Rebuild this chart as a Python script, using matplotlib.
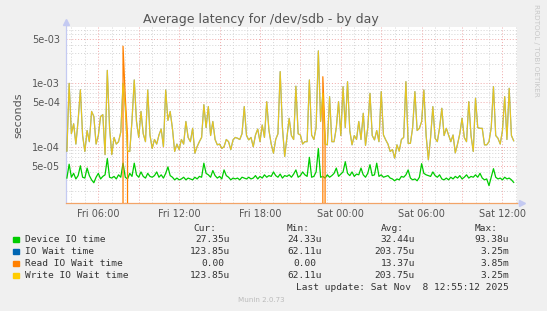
import numpy as np
import matplotlib.pyplot as plt
plt.switch_backend('agg')

W, H = 547, 311

title = "Average latency for /dev/sdb - by day"

# samples every 10 minutes, starting Fri 03:40 (hours counted from Fri 00:00)
start_hour = 3 + 40 / 60
step_min = 10

# Write IO Wait time (= IO Wait time), microseconds
write_us = [85, 1000, 160, 230, 110, 260, 790, 150, 84, 180,
            120, 360, 300, 110, 150, 300, 320, 75, 1600, 200,
            75, 140, 110, 120, 170, 1000, 420, 85, 84, 260,
            1130, 250, 140, 360, 160, 120, 785, 153, 94, 130,
            110, 153, 190, 100, 785, 260, 360, 195, 84, 110,
            90, 130, 110, 250, 140, 120, 195, 79, 100, 120,
            140, 460, 200, 430, 150, 250, 130, 107, 110, 94,
            100, 130, 120, 90, 128, 140, 136, 130, 160, 430,
            150, 128, 140, 100, 153, 190, 120, 220, 140, 514,
            180, 110, 79, 130, 160, 1530, 200, 70, 140, 280,
            150, 130, 900, 160, 153, 110, 120, 120, 1130, 153,
            130, 200, 3250, 250, 700, 110, 107, 616, 120, 120,
            200, 514, 150, 886, 200, 1062, 180, 107, 150, 130,
            250, 130, 337, 105, 200, 695, 150, 128, 180, 120,
            740, 153, 128, 110, 84, 90, 66, 107, 85, 130,
            140, 1062, 113, 113, 200, 740, 180, 195, 250, 785,
            150, 62.11, 140, 429, 136, 120, 200, 404, 150, 195,
            153, 120, 153, 80, 110, 160, 281, 140, 120, 514,
            150, 84, 580, 200, 195, 195, 107, 107, 120, 200,
            886, 150, 136, 110, 180, 616, 130, 834, 150, 123.85]

# Device IO time, microseconds
device_us = [32, 53, 33, 38, 31, 35, 50, 33, 32, 46,
             35, 30, 27, 33, 38, 31, 34, 36, 65, 33,
             32, 34, 31, 36, 33, 55, 33, 31, 38, 34,
             55, 36, 33, 40, 34, 32, 38, 34, 33, 35,
             40, 33, 36, 32, 38, 48, 35, 33, 30, 32,
             30, 31, 33, 30, 32, 31, 30, 33, 31, 34,
             33, 55, 38, 36, 33, 42, 35, 32, 34, 31,
             43, 35, 33, 30, 32, 31, 32, 30, 33, 32,
             31, 33, 31, 32, 35, 31, 34, 32, 36, 33,
             35, 34, 40, 35, 33, 37, 32, 35, 34, 36,
             33, 37, 43, 33, 35, 40, 36, 34, 68, 33,
             34, 40, 93.38, 33, 34, 32, 36, 33, 35, 38,
             46, 34, 37, 40, 58, 38, 35, 40, 34, 37,
             36, 46, 36, 33, 38, 52, 35, 36, 55, 34,
             36, 33, 34, 35, 32, 31, 29, 31, 30, 34,
             33, 36, 43, 32, 30, 31, 29, 33, 54, 38,
             36, 35, 34, 40, 35, 33, 36, 31, 30, 32,
             30, 33, 31, 34, 32, 35, 31, 33, 36, 32,
             34, 33, 36, 33, 38, 32, 30, 31, 24.33, 33,
             45, 33, 31, 32, 30, 33, 31, 32, 30, 27.35]

# Read IO Wait time is zero except for a few samples
read_idx = [25, 26, 27, 114, 115]
read_val = [3850, 600, 150, 1270, 150]

series_names = ['Device IO time', 'IO Wait time', 'Read IO Wait time', 'Write IO Wait time']
series_colors = ['#00CC00', '#0066B3', '#FF8000', '#FFCC00']
cur_vals = ['27.35u', '123.85u', '0.00', '123.85u']
min_vals = ['24.33u', '62.11u', '0.00', '62.11u']
avg_vals = ['32.44u', '203.75u', '13.37u', '203.75u']
max_vals = ['93.38u', '3.25m', '3.85m', '3.25m']
last_update = 'Last update: Sat Nov  8 12:55:12 2025'

xtick_hours = [6, 12, 18, 24, 30, 36]
xtick_labels = ['Fri 06:00', 'Fri 12:00', 'Fri 18:00', 'Sat 00:00', 'Sat 06:00', 'Sat 12:00']
ytick_vals = [5e-5, 1e-4, 5e-4, 1e-3, 5e-3]
ytick_labels = ['5e-05', '1e-04', '5e-04', '1e-03', '5e-03']

n = len(write_us)
hours = start_hour + np.arange(n) * step_min / 60.0
write = np.array(write_us) * 1e-6
device = np.array(device_us) * 1e-6
read = np.zeros(n)
read[read_idx] = np.array(read_val) * 1e-6


def fx(px):
    return px / W


def fy(py):
    return 1 - py / H


fig = plt.figure(figsize=(W / 100, H / 100), dpi=100, facecolor='#F0F0F0')
ax = fig.add_axes([fx(66), fy(203), fx(517) - fx(66), fy(27) - fy(203)])
ax.set_facecolor('white')
ax.set_yscale('log', nonpositive='clip')
ax.set_xlim(3.6, 37.08)
ax.set_ylim(1.294e-5, 7.73e-3)

# grid
for h in range(4, 38):
    if h % 3 == 0:
        ax.axvline(h, color='#F0A8A8', lw=0.7, ls=(0, (1, 2)), zorder=1)
    else:
        ax.axvline(h, color='#D4D4D4', lw=0.7, ls=(0, (1, 2)), zorder=0.5)
for dec in [1e-5, 1e-4, 1e-3]:
    for m in range(1, 10):
        v = m * dec
        if v < 1.294e-5 or v > 7.73e-3:
            continue
        if m in (1, 5):
            ax.axhline(v, color='#F0A8A8', lw=0.7, ls=(0, (1, 2)), zorder=1)
        else:
            ax.axhline(v, color='#D4D4D4', lw=0.7, ls=(0, (1, 2)), zorder=0.5)

ax.plot(hours, device, color=series_colors[0], lw=0.9, zorder=3)
ax.plot(hours, write, color=series_colors[1], lw=0.9, alpha=0.6, zorder=4)
ax.plot(hours, read, color=series_colors[2], lw=0.9, zorder=5)
ax.plot(hours, write, color=series_colors[3], lw=0.8, alpha=0.85, zorder=6)

for s in ['top', 'right', 'left']:
    ax.spines[s].set_visible(False)
ax.spines['bottom'].set_color('#F2A468')
ax.spines['bottom'].set_linewidth(0.9)

# axis arrows
ax.plot([0, 0], [0, 1.025], transform=ax.transAxes, color='#C4CAF2', lw=0.9, clip_on=False, zorder=2)
ax.plot([0], [1.03], transform=ax.transAxes, marker='^', color='#C4CAF2', ms=4, clip_on=False)
ax.plot([1.0, 1.008], [0, 0], transform=ax.transAxes, color='#C4CAF2', lw=0.9, clip_on=False)
ax.plot([1.01], [0], transform=ax.transAxes, marker='>', color='#C4CAF2', ms=4, clip_on=False)

ax.set_xticks(xtick_hours)
ax.set_xticklabels(xtick_labels)
ax.set_yticks(ytick_vals)
ax.set_yticklabels(ytick_labels)
ax.yaxis.set_minor_locator(plt.NullLocator())
ax.tick_params(axis='both', length=0, labelsize=7, colors='#555555')
ax.tick_params(axis='y', pad=4.5)
ax.tick_params(axis='x', pad=4)
ax.set_ylabel('seconds', fontsize=8, color='#555555', labelpad=6)

fig.text(fx(261), fy(19), title, ha='center', va='center', fontsize=9, color='#555555')
fig.text(fx(536), fy(4), 'RRDTOOL / TOBI OETIKER', rotation=270, ha='center', va='top',
         fontsize=5.2, color='#C8C8C8')

mono = 'DejaVu Sans Mono'
fs = 6.8
tc = '#333333'
fig.text(fx(193), fy(228.3), 'Cur:', ha='left', va='center', fontsize=fs, family=mono, color=tc)
fig.text(fx(287), fy(228.3), 'Min:', ha='left', va='center', fontsize=fs, family=mono, color=tc)
fig.text(fx(381), fy(228.3), 'Avg:', ha='left', va='center', fontsize=fs, family=mono, color=tc)
fig.text(fx(475), fy(228.3), 'Max:', ha='left', va='center', fontsize=fs, family=mono, color=tc)

for k in range(4):
    y = 239.7 + 12 * k
    fig.patches.append(plt.Rectangle((fx(13.3), fy(y + 2.7)), fx(5.4), 5.4 / H,
                                     transform=fig.transFigure, color=series_colors[k]))
    fig.text(fx(25), fy(y), series_names[k], ha='left', va='center', fontsize=fs, family=mono, color=tc)
    cols = [(230, cur_vals[k]), (321.7, min_vals[k]), (415, avg_vals[k]), (509, max_vals[k])]
    for xr, txt in cols:
        if not txt.endswith(('u', 'm')):
            xr -= 5.7
        fig.text(fx(xr), fy(y), txt, ha='right', va='center', fontsize=fs, family=mono, color=tc)

fig.text(fx(509), fy(287.7), last_update, ha='right', va='center', fontsize=fs, family=mono, color=tc)
fig.text(fx(261), fy(300.3), 'Munin 2.0.73', ha='center', va='center', fontsize=5.1, color='#BBBBBB')

fig.savefig('out.png', dpi=100, facecolor=fig.get_facecolor())
